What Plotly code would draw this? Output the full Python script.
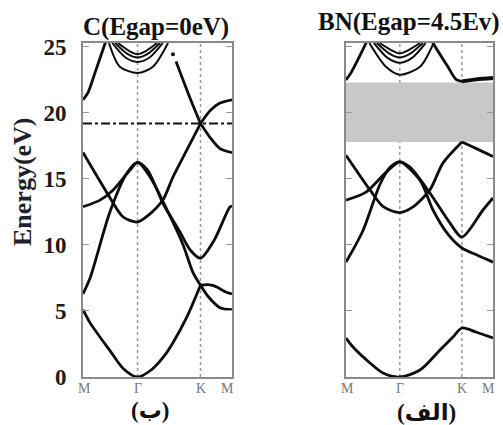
import plotly.graph_objects as go

# ---- k-path positions (M, Gamma, K, M) ----
k_sym = [0.0, 1.155, 2.488, 3.155]
k_lab_left_pos = [0.03, 1.155, 2.488, 3.07]
k_lab_right_pos = [0.04, 1.155, 2.50, 3.05]
k_lab_text = ["M", "Γ", "K", "M"]
y_ticks = [0, 5, 10, 15, 20, 25]
E_top = 25.3

# ---- Graphene (C) bands ----
cA1_k = [0, 0.15, 0.57, 0.85, 1.155, 1.45, 1.72, 1.905, 2.20, 2.488]
cA1_E = [5.1, 4.1, 2.0, 0.65, 0.0, 0.55, 1.6, 2.6, 4.55, 6.95]
cA2_k = [2.488, 2.65, 2.90, 3.155]
cA2_E = [6.95, 6.1, 5.25, 5.1]
cB1_k = [0, 0.15, 0.57, 0.93, 1.155, 1.42, 1.78, 2.12, 2.33, 2.488]
cB1_E = [6.3, 7.5, 12.5, 15.45, 16.25, 15.15, 12.65, 10.0, 7.9, 6.95]
cB2_k = [2.488, 2.65, 2.78, 3.05, 3.155]
cB2_E = [6.95, 7.0, 6.9, 6.4, 6.3]
cC_k = [0, 0.36, 0.64, 1.0, 1.155, 1.36, 1.57, 1.69, 2.05, 2.27, 2.488, 2.78, 3.11, 3.155]
cC_E = [12.9, 13.4, 14.17, 15.7, 16.25, 15.7, 14.17, 13.18, 11.0, 9.62, 9.0, 10.38, 12.88, 12.95]
cPi1_k = [0, 0.51, 0.85, 1.155, 1.40, 1.69, 1.905, 2.20, 2.488]
cPi1_E = [17.0, 13.94, 12.12, 11.74, 12.3, 13.4, 15.15, 17.2, 19.2]
cPi2_k = [2.488, 2.70, 2.90, 3.155]
cPi2_E = [19.2, 18.1, 17.3, 17.0]
cPs1_k = [0, 0.1, 0.25, 0.47, 0.52]
cPs1_E = [21.0, 21.5, 23.0, 25.3, 25.8]
cPs2_k = [1.97, 2.27, 2.488]
cPs2_E = [23.9, 21.1, 19.2]
cPs3_k = [2.488, 2.70, 2.90, 3.155]
cPs3_E = [19.2, 20.2, 20.75, 21.0]
cDot_k = [1.905]
cDot_E = [24.45]
cBowl_k = [[0.55, 0.78, 1.155, 1.48, 1.80],
           [0.62, 0.90, 1.155, 1.41, 1.69],
           [0.68, 0.95, 1.155, 1.36, 1.63],
           [0.74, 1.00, 1.155, 1.31, 1.57]]
cBowl_E = [[25.3, 23.5, 23.03, 23.5, 25.3],
           [25.3, 24.2, 23.86, 24.2, 25.3],
           [25.3, 24.45, 24.2, 24.45, 25.3],
           [25.3, 24.65, 24.45, 24.65, 25.3]]
E_fermi_C = 19.2

# ---- BN bands ----
bA_k = [0, 0.15, 0.515, 0.794, 1.155, 1.588, 2.017, 2.296, 2.488, 2.79, 3.155]
bA_E = [2.95, 2.27, 1.06, 0.3, 0.0, 0.53, 2.05, 3.03, 3.71, 3.41, 2.95]
bB_k = [0, 0.365, 0.73, 0.95, 1.155, 1.588, 1.867, 2.17, 2.488, 2.81, 3.155]
bB_E = [8.7, 11.1, 14.6, 15.9, 16.3, 14.9, 12.65, 10.9, 9.77, 9.24, 8.7]
bC_k = [0, 0.43, 0.858, 1.155, 1.373, 1.80, 2.23, 2.488, 2.94, 3.155]
bC_E = [13.4, 14.0, 15.5, 16.3, 15.9, 13.94, 11.67, 10.6, 12.65, 13.56]
bPi1_k = [0, 0.515, 0.80, 1.155, 1.438, 1.80, 2.08, 2.488]
bPi1_E = [16.8, 14.17, 12.9, 12.45, 12.88, 14.17, 16.2, 17.8]
bPi2_k = [2.488, 2.80, 3.155]
bPi2_E = [17.8, 17.3, 16.7]
bPs1_k = [0, 0.1, 0.25, 0.43, 0.48]
bPs1_E = [22.5, 23.0, 24.0, 25.3, 25.7]
bPs2_k = [1.80, 1.867, 2.17, 2.36, 2.488]
bPs2_E = [25.8, 25.3, 23.6, 22.55, 22.4]
bPs3_k = [2.488, 2.80, 3.155]
bPs3_E = [22.4, 22.55, 22.65]
bBowl_k = [[0.50, 0.858, 1.155, 1.588, 1.88],
           [0.60, 0.90, 1.155, 1.41, 1.71],
           [0.66, 0.95, 1.155, 1.36, 1.65],
           [0.72, 1.00, 1.155, 1.31, 1.59]]
bBowl_E = [[25.3, 23.5, 22.9, 23.5, 25.3],
           [25.3, 24.15, 23.8, 24.15, 25.3],
           [25.3, 24.45, 24.2, 24.45, 25.3],
           [25.3, 24.7, 24.5, 24.7, 25.3]]
gap_BN = [17.8, 22.3]

W, H = 503, 425
fig = go.Figure()

def band(k, e, ax, width=2.8):
    xa, ya = ("x", "y") if ax == 1 else ("x2", "y2")
    fig.add_trace(go.Scatter(x=k, y=e, mode="lines", xaxis=xa, yaxis=ya,
                             line=dict(color="#0d0d0d", width=width, shape="spline", smoothing=0.8),
                             hoverinfo="skip", showlegend=False))

for k, e in [(cA1_k, cA1_E), (cA2_k, cA2_E), (cB1_k, cB1_E), (cB2_k, cB2_E), (cC_k, cC_E),
             (cPi1_k, cPi1_E), (cPi2_k, cPi2_E), (cPs1_k, cPs1_E), (cPs2_k, cPs2_E), (cPs3_k, cPs3_E)]:
    band(k, e, 1)
for k, e in zip(cBowl_k, cBowl_E):
    band(k, e, 1, 2.0)
fig.add_trace(go.Scatter(x=cDot_k, y=cDot_E, mode="markers", xaxis="x", yaxis="y",
                         marker=dict(color="#111", size=4), hoverinfo="skip", showlegend=False))

for k, e in [(bA_k, bA_E), (bB_k, bB_E), (bC_k, bC_E), (bPi1_k, bPi1_E), (bPi2_k, bPi2_E),
             (bPs1_k, bPs1_E), (bPs2_k, bPs2_E)]:
    band(k, e, 2)
band(bPs3_k, bPs3_E, 2, 3.8)
for k, e in zip(bBowl_k, bBowl_E):
    band(k, e, 2, 2.0)

y_bot = 1 - 377 / H
y_topd = 1 - 43 / H
ax_common = dict(range=[k_sym[0], k_sym[-1]], showgrid=False, zeroline=False, showline=True,
                 mirror=True, linecolor="#8a8a8a", linewidth=2, ticks="", showticklabels=False,
                 automargin=False)
ya_common = dict(range=[0, E_top], showgrid=False, zeroline=False, showline=True, mirror="ticks",
                 linecolor="#8a8a8a", linewidth=2, ticks="inside", ticklen=6, tickcolor="#999",
                 tickvals=y_ticks, domain=[y_bot, y_topd], automargin=False)

fig.update_layout(
    width=W, height=H, margin=dict(l=0, r=0, t=0, b=0, pad=0, autoexpand=False),
    paper_bgcolor="white", plot_bgcolor="white",
    xaxis=dict(domain=[83 / W, 232 / W], anchor="y", **ax_common),
    yaxis=dict(anchor="x", showticklabels=True, ticklabelstandoff=10,
               tickfont=dict(family="Liberation Serif", size=23, color="#1a1a1a", weight="bold"),
               **ya_common),
    xaxis2=dict(domain=[346 / W, 493 / W], anchor="y2", **ax_common),
    yaxis2=dict(anchor="x2", showticklabels=False, **ya_common),
)

shapes = []
for xr, yr in [("x", "y"), ("x2", "y2")]:
    for kv in k_sym[1:3]:
        shapes.append(dict(type="line", xref=xr, yref=yr, x0=kv, x1=kv, y0=0, y1=E_top,
                           line=dict(color="#9a9a9a", width=1.5, dash="dot"), layer="below"))
shapes.append(dict(type="rect", xref="x2", yref="y2", x0=k_sym[0], x1=k_sym[-1],
                   y0=gap_BN[0], y1=gap_BN[1], fillcolor="#c8c8c8", line=dict(width=0), layer="below"))
shapes.append(dict(type="line", xref="x", yref="y", x0=k_sym[0], x1=k_sym[-1],
                   y0=E_fermi_C, y1=E_fermi_C, line=dict(color="#111", width=2, dash="dashdot")))
fig.update_layout(shapes=shapes)

ann = []
serif = "Liberation Serif"
def A(text, x, y, xref="paper", size=22, color="#111", family=serif, bold=True, angle=0):
    ann.append(dict(text=text, x=x, y=y, xref=xref, yref="paper", showarrow=False,
                    xanchor="center", yanchor="middle", textangle=angle,
                    font=dict(family=family, size=size, color=color,
                              weight="bold" if bold else "normal")))

A("Energy(eV)", 22 / W, 1 - 182 / H, size=26, color="#1f1f2e", angle=-90)
A("C(Egap=0eV)", 156 / W, 1 - 27 / H, size=25)
A("BN(Egap=4.5Ev)", 409 / W, 1 - 22 / H, size=25)
A("(ب)", 150 / W, 1 - 410 / H, size=23, family="Liberation Serif, DejaVu Sans")
A("(الف)", 426 / W, 1 - 412 / H, size=23, family="Liberation Serif, DejaVu Sans")
for xr, poss in [("x", k_lab_left_pos), ("x2", k_lab_right_pos)]:
    for p, t in zip(poss, k_lab_text):
        A(t, p, 1 - 388 / H, xref=xr, size=14, color="#777", bold=False)
fig.update_layout(annotations=ann)

fig.write_html("out.html")
